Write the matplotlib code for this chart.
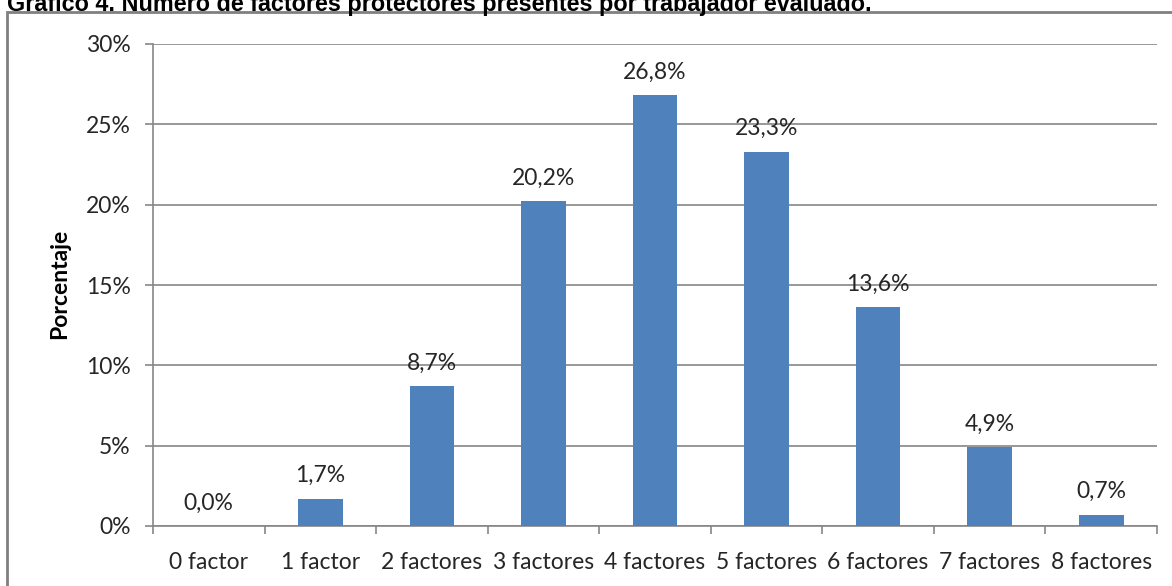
import matplotlib
matplotlib.use("Agg")
import matplotlib.pyplot as plt
from matplotlib.patches import Rectangle
from matplotlib.ticker import MultipleLocator, FuncFormatter
import numpy as np

categories = ["0 factor", "1 factor", "2 factores", "3 factores", "4 factores",
              "5 factores", "6 factores", "7 factores", "8 factores"]
values = [0.0, 1.7, 8.7, 20.2, 26.8, 23.3, 13.6, 4.9, 0.7]
title = "Gráfico 4. Número de factores protectores presentes por trabajador evaluado."
ylabel = "Porcentaje"

W, H = 1172, 586
fig = plt.figure(figsize=(W / 100, H / 100), dpi=100)
fig.patch.set_facecolor("white")

ax = fig.add_axes([153 / W, 1 - 526 / H, (1157 - 153) / W, (526 - 44) / H])

axis_gray = "#868686"
text_col = "#262626"
bar_col = "#4F81BD"
tick_font = "Lato"

x = np.arange(len(categories))
ax.bar(x, values, width=0.40, color=bar_col, zorder=3)

for xi, v in zip(x, values):
    ax.annotate(f"{v:.1f}%".replace(".", ","), (xi, v), xytext=(0, 9),
                textcoords="offset points", ha="center", va="bottom",
                fontsize=16.5, family=tick_font, color=text_col)

ax.set_xlim(-0.5, len(categories) - 0.5)
ax.set_ylim(0, 30)
ax.yaxis.set_major_locator(MultipleLocator(5))
ax.yaxis.set_major_formatter(FuncFormatter(lambda v, p: f"{v:.0f}%"))
ax.grid(axis="y", color=axis_gray, linewidth=1.2, zorder=0)
ax.set_axisbelow(True)

ax.set_xticks(x)
ax.set_xticklabels(categories)
ax.set_xticks(np.arange(len(categories) + 1) - 0.5, minor=True)
ax.tick_params(axis="x", which="major", length=0, pad=19)
ax.tick_params(axis="x", which="minor", length=6, width=1.2, color=axis_gray, direction="out")
ax.tick_params(axis="y", length=6, width=1.2, color=axis_gray, direction="out", pad=10)
for lab in ax.get_xticklabels() + ax.get_yticklabels():
    lab.set_fontfamily(tick_font)
    lab.set_fontsize(16.5)
    lab.set_color(text_col)

for side in ("top", "right"):
    ax.spines[side].set_visible(False)
for side in ("left", "bottom"):
    ax.spines[side].set_color(axis_gray)
    ax.spines[side].set_linewidth(1.2)

fig.text(60 / W, 1 - 284 / H, ylabel, rotation=90, ha="center", va="center",
         fontsize=16.5, fontweight="bold", family=tick_font, color="black")

# chart frame and caption
fig.patches.append(Rectangle((7 / W, -0.05), 1.1, 1 - 12 / H + 0.05,
                             transform=fig.transFigure, fill=False,
                             edgecolor="#808080", linewidth=2, clip_on=False))
fig.text(7 / W, 1 - 10.5 / H, title, ha="left", va="baseline",
         fontsize=16.8, fontweight="bold", family="Liberation Sans", color="black")

fig.savefig("out.png", dpi=100, facecolor="white")
